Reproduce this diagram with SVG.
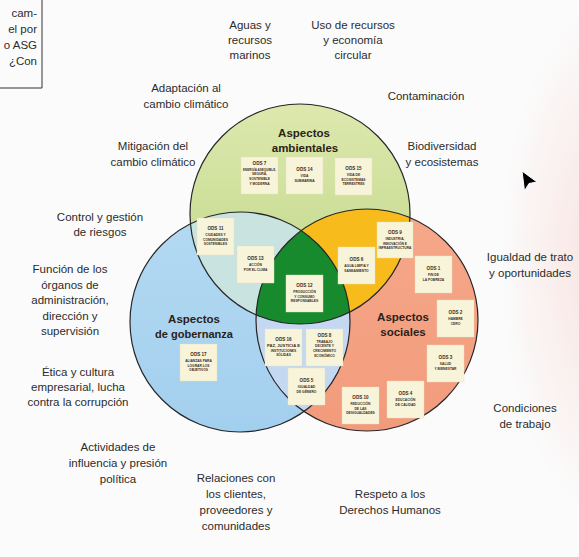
<svg xmlns="http://www.w3.org/2000/svg" width="579" height="557" viewBox="0 0 579 557">
<defs>
<style>
.lbl{font-family:"Liberation Sans",Arial,sans-serif;font-size:11.5px;fill:#2b2b2b;text-anchor:middle}
.hdr{font-family:"Liberation Sans",Arial,sans-serif;font-size:11.5px;font-weight:bold;fill:#2a2218;text-anchor:middle}
.box{fill:#f8f4da;stroke:#e6dfc0;stroke-width:0.4}
.t{font-family:"Liberation Sans",Arial,sans-serif;font-size:4.6px;font-weight:bold;fill:#3a2c1c;text-anchor:middle}
.c{font-family:"Liberation Sans",Arial,sans-serif;font-size:3.3px;font-weight:bold;fill:#3a2c1c;text-anchor:middle}
.ring{fill:none;stroke:#262626;stroke-width:1.2}
</style>
<linearGradient id="gG" x1="0" y1="0" x2="0" y2="1"><stop offset="0" stop-color="#dde8ae"/><stop offset="1" stop-color="#bdd786"/></linearGradient>
<linearGradient id="gB" x1="0" y1="0" x2="0" y2="1"><stop offset="0" stop-color="#b4daf2"/><stop offset="1" stop-color="#a3cfee"/></linearGradient>
<linearGradient id="gP" x1="0" y1="0" x2="0" y2="1"><stop offset="0" stop-color="#f6a88a"/><stop offset="1" stop-color="#f29b7c"/></linearGradient>
<radialGradient id="glow" cx="0.5" cy="0.5" r="0.5"><stop offset="0" stop-color="#f6d6d2" stop-opacity="0.7"/><stop offset="1" stop-color="#f6d6d2" stop-opacity="0"/></radialGradient>
<clipPath id="cG"><circle cx="300" cy="214" r="110"/></clipPath>
<clipPath id="cB"><circle cx="240" cy="322" r="110"/></clipPath>
<clipPath id="cP"><circle cx="367" cy="320" r="111"/></clipPath>
</defs>
<rect width="579" height="557" fill="#fbfbfb"/>
<ellipse cx="610" cy="260" rx="110" ry="260" fill="url(#glow)"/>

<g id="side-note">
<path d="M42 0 V88 H0" fill="none" stroke="#3a3030" stroke-width="1"/>
<text class="lbl" style="text-anchor:end" x="37" y="17">cam-</text>
<text class="lbl" style="text-anchor:end" x="37" y="33">el por</text>
<text class="lbl" style="text-anchor:end" x="37" y="49">o ASG</text>
<text class="lbl" style="text-anchor:end" x="37" y="65">¿Con</text>
</g>

<g id="venn">
<circle cx="300" cy="214" r="110" fill="url(#gG)"/>
<circle cx="240" cy="322" r="110" fill="url(#gB)"/>
<circle cx="367" cy="320" r="111" fill="url(#gP)"/>
<g clip-path="url(#cG)"><circle cx="240" cy="322" r="110" fill="#c9e3e0"/></g>
<g clip-path="url(#cG)"><circle cx="367" cy="320" r="111" fill="#f8bb1c"/></g>
<g clip-path="url(#cB)"><circle cx="367" cy="320" r="111" fill="#c4d8f2"/></g>
<g clip-path="url(#cG)"><g clip-path="url(#cB)"><circle cx="367" cy="320" r="111" fill="#178a2d"/></g></g>
<circle class="ring" cx="300" cy="214" r="110"/>
<circle class="ring" cx="240" cy="322" r="110"/>
<circle class="ring" cx="367" cy="320" r="111"/>
</g>

<g id="hdr-ambientales"><text class="hdr" x="304" y="137">Aspectos</text><text class="hdr" x="305" y="152">ambientales</text></g>
<g id="hdr-gobernanza"><text class="hdr" x="194" y="323">Aspectos</text><text class="hdr" x="194" y="338" textLength="78" lengthAdjust="spacingAndGlyphs">de gobernanza</text></g>
<g id="hdr-sociales"><text class="hdr" x="403" y="321">Aspectos</text><text class="hdr" x="403" y="336">sociales</text></g>

<g id="ods7"><rect class="box" x="241" y="157" width="37" height="37"/><text class="t" x="259.5" y="164.5">ODS 7</text><text class="c" x="259.5" y="170.5" textLength="33" lengthAdjust="spacingAndGlyphs">ENERGÍA ASEQUIBLE,</text><text class="c" x="259.5" y="175.2">SEGURA,</text><text class="c" x="259.5" y="179.9">SOSTENIBLE</text><text class="c" x="259.5" y="184.6">Y MODERNA</text></g>
<g id="ods14"><rect class="box" x="286" y="157" width="37" height="37"/><text class="t" x="304.5" y="171.4">ODS 14</text><text class="c" x="304.5" y="177.4">VIDA</text><text class="c" x="304.5" y="182.1">SUBMARINA</text></g>
<g id="ods15"><rect class="box" x="335" y="158" width="37" height="37"/><text class="t" x="353.5" y="170">ODS 15</text><text class="c" x="353.5" y="176">VIDA DE</text><text class="c" x="353.5" y="180.7">ECOSISTEMAS</text><text class="c" x="353.5" y="185.4">TERRESTRES</text></g>
<g id="ods11"><rect class="box" x="197" y="218" width="37" height="37"/><text class="t" x="215.5" y="230">ODS 11</text><text class="c" x="215.5" y="236">CIUDADES Y</text><text class="c" x="215.5" y="240.7">COMUNIDADES</text><text class="c" x="215.5" y="245.4">SOSTENIBLES</text></g>
<g id="ods13"><rect class="box" x="237" y="246" width="37" height="37"/><text class="t" x="255.5" y="260.4">ODS 13</text><text class="c" x="255.5" y="266.4">ACCIÓN</text><text class="c" x="255.5" y="271.1">POR EL CLIMA</text></g>
<g id="ods12"><rect class="box" x="286" y="275" width="37" height="37"/><text class="t" x="304.5" y="287">ODS 12</text><text class="c" x="304.5" y="293">PRODUCCIÓN</text><text class="c" x="304.5" y="297.7">Y CONSUMO</text><text class="c" x="304.5" y="302.4">RESPONSABLES</text></g>
<g id="ods6"><rect class="box" x="338" y="247" width="37" height="37"/><text class="t" x="356.5" y="261.4">ODS 6</text><text class="c" x="356.5" y="267.4">AGUA LIMPIA Y</text><text class="c" x="356.5" y="272.1">SANEAMIENTO</text></g>
<g id="ods9"><rect class="box" x="377" y="222" width="36" height="36"/><text class="t" x="395" y="234">ODS 9</text><text class="c" x="395" y="240">INDUSTRIA,</text><text class="c" x="395" y="244.7">INNOVACIÓN E</text><text class="c" x="395" y="249.4" textLength="33" lengthAdjust="spacingAndGlyphs">INFRAESTRUCTURA</text></g>
<g id="ods1"><rect class="box" x="415" y="256" width="37" height="37"/><text class="t" x="433.5" y="270.4">ODS 1</text><text class="c" x="433.5" y="276.4">FIN DE</text><text class="c" x="433.5" y="281.1">LA POBREZA</text></g>
<g id="ods2"><rect class="box" x="437" y="300" width="37" height="37"/><text class="t" x="455.5" y="314.4">ODS 2</text><text class="c" x="455.5" y="320.4">HAMBRE</text><text class="c" x="455.5" y="325.1">CERO</text></g>
<g id="ods3"><rect class="box" x="427" y="345" width="37" height="37"/><text class="t" x="445.5" y="359.4">ODS 3</text><text class="c" x="445.5" y="365.4">SALUD</text><text class="c" x="445.5" y="370.1">Y BIENESTAR</text></g>
<g id="ods4"><rect class="box" x="387" y="381" width="37" height="37"/><text class="t" x="405.5" y="395.4">ODS 4</text><text class="c" x="405.5" y="401.4">EDUCACIÓN</text><text class="c" x="405.5" y="406.1">DE CALIDAD</text></g>
<g id="ods10"><rect class="box" x="342" y="387" width="37" height="37"/><text class="t" x="360.5" y="399">ODS 10</text><text class="c" x="360.5" y="405">REDUCCIÓN</text><text class="c" x="360.5" y="409.7">DE LAS</text><text class="c" x="360.5" y="414.4">DESIGUALDADES</text></g>
<g id="ods16"><rect class="box" x="265" y="329" width="37" height="37"/><text class="t" x="283.5" y="341">ODS 16</text><text class="c" x="283.5" y="347" textLength="33" lengthAdjust="spacingAndGlyphs">PAZ, JUSTICIA E</text><text class="c" x="283.5" y="351.7">INSTITUCIONES</text><text class="c" x="283.5" y="356.4">SÓLIDAS</text></g>
<g id="ods8"><rect class="box" x="306" y="329" width="37" height="37"/><text class="t" x="324.5" y="336.5">ODS 8</text><text class="c" x="324.5" y="342.5">TRABAJO</text><text class="c" x="324.5" y="347.2">DECENTE Y</text><text class="c" x="324.5" y="351.9">CRECIMIENTO</text><text class="c" x="324.5" y="356.6">ECONÓMICO</text></g>
<g id="ods5"><rect class="box" x="288" y="368" width="37" height="37"/><text class="t" x="306.5" y="382.4">ODS 5</text><text class="c" x="306.5" y="388.4">IGUALDAD</text><text class="c" x="306.5" y="393.1">DE GÉNERO</text></g>
<g id="ods17"><rect class="box" x="180" y="344" width="37" height="37"/><text class="t" x="198.5" y="356">ODS 17</text><text class="c" x="198.5" y="362">ALIANZAS PARA</text><text class="c" x="198.5" y="366.7">LOGRAR LOS</text><text class="c" x="198.5" y="371.4">OBJETIVOS</text></g>

<g id="lbl-aguas"><text class="lbl" x="250" y="29">Aguas y</text><text class="lbl" x="250" y="44">recursos</text><text class="lbl" x="250" y="59">marinos</text></g>
<g id="lbl-uso"><text class="lbl" x="353" y="29">Uso de recursos</text><text class="lbl" x="353" y="44">y economía</text><text class="lbl" x="353" y="59">circular</text></g>
<g id="lbl-adaptacion"><text class="lbl" x="186" y="92">Adaptación al</text><text class="lbl" x="186" y="108">cambio climático</text></g>
<g id="lbl-contaminacion"><text class="lbl" x="426" y="100">Contaminación</text></g>
<g id="lbl-mitigacion"><text class="lbl" x="153" y="150">Mitigación del</text><text class="lbl" x="153" y="166">cambio climático</text></g>
<g id="lbl-biodiversidad"><text class="lbl" x="442" y="150">Biodiversidad</text><text class="lbl" x="442" y="166">y ecosistemas</text></g>
<g id="lbl-control"><text class="lbl" x="100" y="221">Control y gestión</text><text class="lbl" x="100" y="236">de riesgos</text></g>
<g id="lbl-funcion"><text class="lbl" x="70" y="273">Función de los</text><text class="lbl" x="70" y="288.5">órganos de</text><text class="lbl" x="70" y="304">administración,</text><text class="lbl" x="70" y="319.5">dirección y</text><text class="lbl" x="70" y="335">supervisión</text></g>
<g id="lbl-etica"><text class="lbl" x="78" y="376">Ética y cultura</text><text class="lbl" x="78" y="391">empresarial, lucha</text><text class="lbl" x="78" y="406">contra la corrupción</text></g>
<g id="lbl-actividades"><text class="lbl" x="118" y="451">Actividades de</text><text class="lbl" x="118" y="467">influencia y presión</text><text class="lbl" x="118" y="483">política</text></g>
<g id="lbl-relaciones"><text class="lbl" x="236" y="482">Relaciones con</text><text class="lbl" x="236" y="498">los clientes,</text><text class="lbl" x="236" y="514">proveedores y</text><text class="lbl" x="236" y="530">comunidades</text></g>
<g id="lbl-respeto"><text class="lbl" x="390" y="498">Respeto a los</text><text class="lbl" x="390" y="514">Derechos Humanos</text></g>
<g id="lbl-condiciones"><text class="lbl" x="525" y="412">Condiciones</text><text class="lbl" x="525" y="428">de trabajo</text></g>
<g id="lbl-igualdad"><text class="lbl" x="530" y="261">Igualdad de trato</text><text class="lbl" x="530" y="277">y oportunidades</text></g>

<g id="cursor"><path d="M522 171 L537 182 L529 183.5 L524.5 191 Z" fill="#000" stroke="#fff" stroke-width="1" stroke-linejoin="round"/></g>
</svg>
